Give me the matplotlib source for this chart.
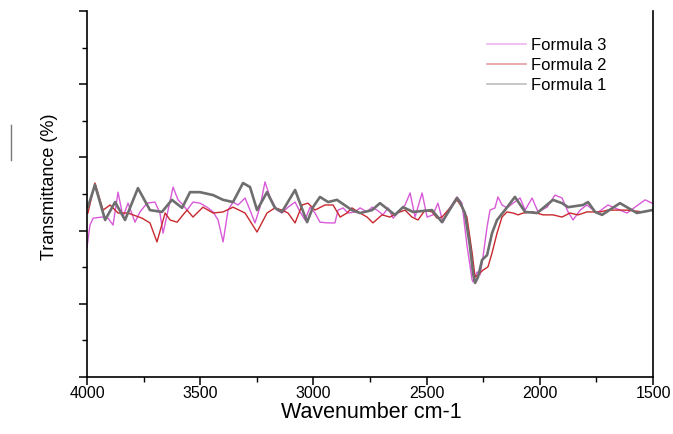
import matplotlib
matplotlib.use("Agg")
import matplotlib.pyplot as plt
from matplotlib.lines import Line2D
from matplotlib.ticker import MultipleLocator

plt.rcParams['font.family'] = ['Liberation Sans', 'DejaVu Sans']

# FTIR spectra (wavenumber cm-1, transmittance %)
wn_f1 = [3996, 3965, 3920, 3876, 3832, 3775, 3722, 3669, 3625, 3580, 3545, 3501, 3443,
         3399, 3355, 3311, 3280, 3249, 3205, 3170, 3139, 3081, 3028, 3002, 2971, 2935,
         2896, 2830, 2794, 2741, 2706, 2640, 2604, 2560, 2476, 2432, 2366, 2353, 2331,
         2308, 2295, 2286, 2273, 2255, 2233, 2211, 2189, 2154, 2110, 2065, 2012, 1942,
         1902, 1875, 1809, 1787, 1756, 1725, 1646, 1571, 1504]
t_f1 = [46.4, 52.5, 42.9, 47.8, 42.9, 51.6, 45.6, 45.1, 48.4, 46.2, 50.5, 50.5, 49.7,
        48.4, 47.8, 53.0, 51.9, 45.6, 50.5, 46.2, 45.1, 51.1, 42.3, 46.4, 49.2, 47.8,
        48.4, 45.6, 44.8, 45.6, 47.5, 44.3, 46.4, 45.1, 45.6, 42.3, 48.9, 47.8, 44.8,
        35.5, 28.4, 25.7, 27.3, 32.0, 33.3, 39.3, 42.9, 45.6, 49.2, 45.1, 44.8, 48.4,
        47.5, 46.4, 47.0, 47.8, 45.1, 44.3, 47.5, 44.8, 45.6]

wn_f2 = [3996, 3965, 3929, 3898, 3863, 3819, 3757, 3722, 3691, 3655, 3633, 3602, 3576,
         3558, 3532, 3488, 3443, 3399, 3355, 3302, 3249, 3205, 3170, 3139, 3112, 3081,
         3050, 3024, 2993, 2949, 2913, 2882, 2852, 2830, 2794, 2763, 2737, 2697, 2662,
         2631, 2595, 2565, 2538, 2507, 2476, 2454, 2432, 2397, 2366, 2344, 2322, 2299,
         2286, 2273, 2251, 2229, 2211, 2189, 2167, 2145, 2118, 2096, 2074, 2030, 1986,
         1942, 1902, 1867, 1831, 1792, 1734, 1699, 1615, 1544, 1504]
t_f2 = [44.8, 53.0, 45.6, 47.0, 44.8, 44.8, 43.4, 42.1, 36.9, 44.8, 42.9, 42.3, 44.3,
        45.6, 43.7, 46.4, 44.8, 45.1, 46.4, 44.8, 39.6, 44.8, 46.2, 45.6, 44.8, 42.1,
        47.0, 47.5, 45.6, 47.0, 47.0, 43.7, 44.8, 46.2, 44.8, 43.7, 42.1, 44.3, 43.7,
        44.8, 45.6, 43.7, 42.9, 45.6, 45.1, 43.4, 43.7, 46.2, 48.4, 46.4, 43.7, 33.9,
        27.3, 27.9, 29.2, 30.1, 33.9, 39.3, 43.7, 45.1, 44.8, 44.3, 44.8, 45.1, 44.3,
        44.3, 43.7, 44.8, 44.3, 45.1, 45.1, 45.6, 45.6, 45.1, 45.6]

wn_f3 = [4000, 3987, 3973, 3934, 3907, 3885, 3863, 3841, 3819, 3788, 3766, 3735, 3700,
         3678, 3664, 3642, 3620, 3598, 3576, 3558, 3532, 3501, 3470, 3443, 3421, 3399,
         3377, 3355, 3333, 3302, 3280, 3258, 3236, 3214, 3192, 3161, 3139, 3112, 3081,
         3059, 3037, 3015, 2993, 2971, 2935, 2905, 2891, 2869, 2847, 2816, 2794, 2763,
         2741, 2719, 2693, 2670, 2648, 2617, 2595, 2573, 2551, 2520, 2498, 2472, 2450,
         2428, 2397, 2366, 2344, 2322, 2299, 2295, 2277, 2264, 2251, 2233, 2220, 2198,
         2185, 2167, 2145, 2118, 2087, 2065, 2034, 2008, 1968, 1933, 1902, 1875, 1853,
         1822, 1792, 1747, 1699, 1615, 1535, 1504]
t_f3 = [35.5, 41.5, 43.4, 43.7, 43.4, 41.5, 50.5, 43.7, 47.5, 42.3, 45.1, 47.5, 47.8,
        44.8, 39.3, 45.6, 51.9, 48.4, 47.0, 45.6, 47.8, 47.5, 46.4, 45.1, 42.9, 36.9,
        45.6, 47.8, 47.0, 48.9, 45.6, 42.1, 46.4, 53.3, 49.2, 45.6, 44.8, 46.4, 47.8,
        45.1, 42.9, 46.4, 44.8, 42.3, 42.1, 42.1, 45.6, 46.2, 44.8, 45.1, 46.2, 45.1,
        46.4, 45.6, 44.3, 46.2, 43.4, 45.6, 47.0, 50.3, 43.7, 50.3, 43.7, 44.3, 47.5,
        42.3, 46.2, 49.2, 47.5, 36.1, 26.5, 26.0, 28.7, 27.9, 32.8, 41.0, 45.6, 46.2,
        49.2, 47.0, 46.2, 47.5, 48.9, 45.6, 48.9, 45.1, 46.4, 49.7, 48.9, 45.1, 42.9,
        45.6, 47.0, 44.8, 47.0, 44.8, 48.4, 47.5]

fig = plt.figure(figsize=(6.73, 4.34), dpi=100)
ax = fig.add_axes([0.1293, 0.1313, 0.8410, 0.8434])

ax.plot(wn_f3, t_f3, color='#d85ad8', lw=1.0, solid_joinstyle='round', label='Formula 3')
ax.plot(wn_f2, t_f2, color='#c8282e', lw=1.0, solid_joinstyle='round', label='Formula 2')
ax.plot(wn_f1, t_f1, color='#6e6e6e', lw=1.9, solid_joinstyle='round', label='Formula 1')

ax.set_xlim(4000, 1500)
ax.set_ylim(0, 100)
ax.xaxis.set_major_locator(MultipleLocator(500))
ax.xaxis.set_minor_locator(MultipleLocator(250))
ax.yaxis.set_major_locator(MultipleLocator(20))
ax.yaxis.set_minor_locator(MultipleLocator(10))
ax.tick_params(which='major', direction='out', length=6, width=1.1, labelsize=11.5, pad=0.8)
ax.tick_params(which='minor', direction='out', length=3.5, width=1.0)
ax.tick_params(axis='y', labelleft=False)
ax.spines['top'].set_visible(False)
for s in ('left', 'bottom', 'right'):
    ax.spines[s].set_linewidth(1.2)

ax.set_xlabel('Wavenumber cm-1', fontsize=15.5)
ax.xaxis.set_label_coords(0.502, -0.068)
ax.set_ylabel('Transmittance (%)', fontsize=13)
ax.yaxis.set_label_coords(-0.052, 0.52)

leg = ax.legend(loc='upper right', bbox_to_anchor=(0.944, 0.967), frameon=False,
                fontsize=12, handlelength=2.3, labelspacing=0.3, handletextpad=0.3)
for h in leg.get_lines():
    h.set_alpha(0.45)
    h.set_linewidth(1.2)

# stray dash left of the y label
fig.add_artist(Line2D([0.0165, 0.0165], [1 - 125 / 434, 1 - 160 / 434],
                      color='#777777', lw=1.0))

fig.savefig('out.png', dpi=100)
